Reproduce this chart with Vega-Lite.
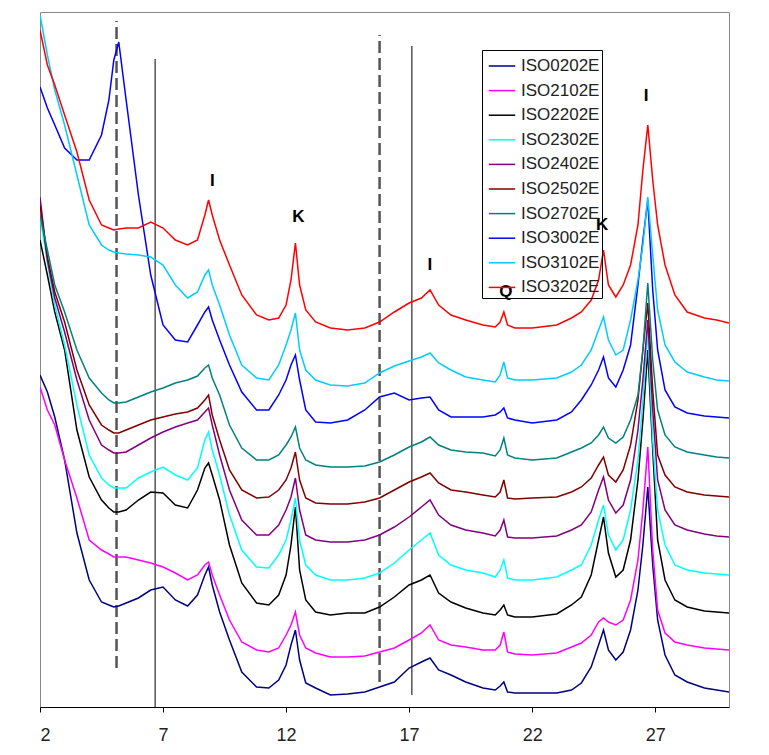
{
 "$schema": "https://vega.github.io/schema/vega-lite/v6.json",
 "width": 689, "height": 695,
 "autosize": {"type": "none"},
 "padding": {"left": 40, "top": 12, "right": 40, "bottom": 48},
 "background": "white",
 "config": {"view": {"stroke": "#888", "strokeWidth": 1}, "font": "Liberation Sans"},
 "datasets": {
  "xrd": [
   {"x":2.0,"ISO0202E":332,"ISO2102E":320,"ISO2202E":467,"ISO2302E":492,"ISO2402E":510,"ISO2502E":502,"ISO2702E":492,"ISO3002E":620,"ISO3102E":692,"ISO3202E":677},
   {"x":2.3,"ISO0202E":315,"ISO2102E":297,"ISO2202E":432,"ISO2302E":444,"ISO2402E":447,"ISO2502E":450,"ISO2702E":457,"ISO3002E":599,"ISO3102E":652,"ISO3202E":642},
   {"x":2.6,"ISO0202E":290,"ISO2102E":282,"ISO2202E":395,"ISO2302E":402,"ISO2402E":409,"ISO2502E":415,"ISO2702E":422,"ISO3002E":582,"ISO3102E":617,"ISO3202E":622},
   {"x":3.0,"ISO0202E":247,"ISO2102E":247,"ISO2202E":357,"ISO2302E":362,"ISO2402E":375,"ISO2502E":385,"ISO2702E":395,"ISO3002E":559,"ISO3102E":582,"ISO3202E":592},
   {"x":3.5,"ISO0202E":174,"ISO2102E":209,"ISO2202E":277,"ISO2302E":302,"ISO2402E":327,"ISO2502E":337,"ISO2702E":357,"ISO3002E":547,"ISO3102E":532,"ISO3202E":555},
   {"x":4.0,"ISO0202E":127,"ISO2102E":167,"ISO2202E":230,"ISO2302E":252,"ISO2402E":287,"ISO2502E":302,"ISO2702E":329,"ISO3002E":547,"ISO3102E":482,"ISO3202E":507},
   {"x":4.5,"ISO0202E":105,"ISO2102E":157,"ISO2202E":207,"ISO2302E":229,"ISO2402E":262,"ISO2502E":282,"ISO2702E":314,"ISO3002E":572,"ISO3102E":462,"ISO3202E":482},
   {"x":4.8,"ISO0202E":102,"ISO2102E":153,"ISO2202E":199,"ISO2302E":222,"ISO2402E":257,"ISO2502E":277,"ISO2702E":307,"ISO3002E":607,"ISO3102E":457,"ISO3202E":479},
   {"x":5.0,"ISO0202E":100,"ISO2102E":150,"ISO2202E":195,"ISO2302E":219,"ISO2402E":254,"ISO2502E":274,"ISO2702E":304,"ISO3002E":647,"ISO3102E":455,"ISO3202E":477},
   {"x":5.2,"ISO0202E":101,"ISO2102E":150,"ISO2202E":195,"ISO2302E":219,"ISO2402E":254,"ISO2502E":274,"ISO2702E":304,"ISO3002E":665,"ISO3102E":454,"ISO3202E":478},
   {"x":5.5,"ISO0202E":104,"ISO2102E":150,"ISO2202E":197,"ISO2302E":219,"ISO2402E":255,"ISO2502E":277,"ISO2702E":305,"ISO3002E":607,"ISO3102E":453,"ISO3202E":479},
   {"x":6.0,"ISO0202E":109,"ISO2102E":147,"ISO2202E":207,"ISO2302E":229,"ISO2402E":262,"ISO2502E":282,"ISO2702E":310,"ISO3002E":512,"ISO3102E":452,"ISO3202E":479},
   {"x":6.5,"ISO0202E":117,"ISO2102E":144,"ISO2202E":215,"ISO2302E":235,"ISO2402E":269,"ISO2502E":287,"ISO2702E":315,"ISO3002E":432,"ISO3102E":450,"ISO3202E":485},
   {"x":7.0,"ISO0202E":120,"ISO2102E":140,"ISO2202E":214,"ISO2302E":240,"ISO2402E":275,"ISO2502E":290,"ISO2702E":319,"ISO3002E":382,"ISO3102E":442,"ISO3202E":479},
   {"x":7.5,"ISO0202E":107,"ISO2102E":134,"ISO2202E":202,"ISO2302E":232,"ISO2402E":280,"ISO2502E":293,"ISO2702E":324,"ISO3002E":367,"ISO3102E":422,"ISO3202E":467},
   {"x":8.0,"ISO0202E":101,"ISO2102E":127,"ISO2202E":199,"ISO2302E":227,"ISO2402E":284,"ISO2502E":295,"ISO2702E":327,"ISO3002E":365,"ISO3102E":409,"ISO3202E":462},
   {"x":8.4,"ISO0202E":112,"ISO2102E":132,"ISO2202E":217,"ISO2302E":239,"ISO2402E":287,"ISO2502E":299,"ISO2702E":331,"ISO3002E":382,"ISO3102E":415,"ISO3202E":467},
   {"x":8.7,"ISO0202E":132,"ISO2102E":142,"ISO2202E":239,"ISO2302E":267,"ISO2402E":295,"ISO2502E":307,"ISO2702E":339,"ISO3002E":395,"ISO3102E":432,"ISO3202E":492},
   {"x":8.85,"ISO0202E":140,"ISO2102E":145,"ISO2202E":244,"ISO2302E":275,"ISO2402E":299,"ISO2502E":312,"ISO2702E":342,"ISO3002E":400,"ISO3102E":437,"ISO3202E":507},
   {"x":9.0,"ISO0202E":122,"ISO2102E":132,"ISO2202E":232,"ISO2302E":257,"ISO2402E":282,"ISO2502E":292,"ISO2702E":329,"ISO3002E":387,"ISO3102E":422,"ISO3202E":492},
   {"x":9.3,"ISO0202E":95,"ISO2102E":112,"ISO2202E":207,"ISO2302E":232,"ISO2402E":252,"ISO2502E":267,"ISO2702E":312,"ISO3002E":367,"ISO3102E":402,"ISO3202E":467},
   {"x":9.7,"ISO0202E":67,"ISO2102E":87,"ISO2202E":162,"ISO2302E":192,"ISO2402E":217,"ISO2502E":237,"ISO2702E":282,"ISO3002E":342,"ISO3102E":372,"ISO3202E":442},
   {"x":10.2,"ISO0202E":35,"ISO2102E":65,"ISO2202E":124,"ISO2302E":157,"ISO2402E":187,"ISO2502E":217,"ISO2702E":259,"ISO3002E":315,"ISO3102E":342,"ISO3202E":412},
   {"x":10.8,"ISO0202E":20,"ISO2102E":57,"ISO2202E":104,"ISO2302E":140,"ISO2402E":172,"ISO2502E":209,"ISO2702E":247,"ISO3002E":297,"ISO3102E":329,"ISO3202E":392},
   {"x":11.3,"ISO0202E":19,"ISO2102E":55,"ISO2202E":102,"ISO2302E":139,"ISO2402E":172,"ISO2502E":210,"ISO2702E":247,"ISO3002E":297,"ISO3102E":327,"ISO3202E":387},
   {"x":11.7,"ISO0202E":27,"ISO2102E":59,"ISO2202E":112,"ISO2302E":152,"ISO2402E":182,"ISO2502E":217,"ISO2702E":252,"ISO3002E":312,"ISO3102E":342,"ISO3202E":389},
   {"x":12.0,"ISO0202E":42,"ISO2102E":72,"ISO2202E":132,"ISO2302E":167,"ISO2402E":197,"ISO2502E":227,"ISO2702E":262,"ISO3002E":327,"ISO3102E":362,"ISO3202E":402},
   {"x":12.2,"ISO0202E":62,"ISO2102E":82,"ISO2202E":162,"ISO2302E":187,"ISO2402E":210,"ISO2502E":239,"ISO2702E":270,"ISO3002E":342,"ISO3102E":377,"ISO3202E":427},
   {"x":12.38,"ISO0202E":77,"ISO2102E":95,"ISO2202E":200,"ISO2302E":209,"ISO2402E":229,"ISO2502E":255,"ISO2702E":280,"ISO3002E":352,"ISO3102E":394,"ISO3202E":464},
   {"x":12.55,"ISO0202E":47,"ISO2102E":72,"ISO2202E":137,"ISO2302E":167,"ISO2402E":197,"ISO2502E":227,"ISO2702E":259,"ISO3002E":327,"ISO3102E":357,"ISO3202E":422},
   {"x":12.8,"ISO0202E":24,"ISO2102E":59,"ISO2202E":107,"ISO2302E":142,"ISO2402E":172,"ISO2502E":209,"ISO2702E":247,"ISO3002E":297,"ISO3102E":337,"ISO3202E":397},
   {"x":13.2,"ISO0202E":19,"ISO2102E":54,"ISO2202E":95,"ISO2302E":132,"ISO2402E":167,"ISO2502E":204,"ISO2702E":242,"ISO3002E":285,"ISO3102E":327,"ISO3202E":385},
   {"x":13.8,"ISO0202E":12,"ISO2102E":50,"ISO2202E":92,"ISO2302E":127,"ISO2402E":165,"ISO2502E":203,"ISO2702E":240,"ISO3002E":284,"ISO3102E":322,"ISO3202E":379},
   {"x":14.5,"ISO0202E":13,"ISO2102E":50,"ISO2202E":94,"ISO2302E":127,"ISO2402E":165,"ISO2502E":203,"ISO2702E":240,"ISO3002E":287,"ISO3102E":321,"ISO3202E":377},
   {"x":15.2,"ISO0202E":15,"ISO2102E":51,"ISO2202E":94,"ISO2302E":129,"ISO2402E":167,"ISO2502E":205,"ISO2702E":241,"ISO3002E":297,"ISO3102E":324,"ISO3202E":379},
   {"x":15.8,"ISO0202E":20,"ISO2102E":55,"ISO2202E":100,"ISO2302E":134,"ISO2402E":172,"ISO2502E":209,"ISO2702E":245,"ISO3002E":310,"ISO3102E":334,"ISO3202E":385},
   {"x":16.4,"ISO0202E":25,"ISO2102E":59,"ISO2202E":110,"ISO2302E":144,"ISO2402E":180,"ISO2502E":217,"ISO2702E":252,"ISO3002E":314,"ISO3102E":341,"ISO3202E":395},
   {"x":17.0,"ISO0202E":39,"ISO2102E":67,"ISO2202E":122,"ISO2302E":157,"ISO2402E":190,"ISO2502E":225,"ISO2702E":260,"ISO3002E":307,"ISO3102E":346,"ISO3202E":404},
   {"x":17.5,"ISO0202E":45,"ISO2102E":74,"ISO2202E":127,"ISO2302E":167,"ISO2402E":200,"ISO2502E":230,"ISO2702E":265,"ISO3002E":309,"ISO3102E":350,"ISO3202E":409},
   {"x":17.85,"ISO0202E":49,"ISO2102E":82,"ISO2202E":132,"ISO2302E":174,"ISO2402E":207,"ISO2502E":234,"ISO2702E":270,"ISO3002E":310,"ISO3102E":354,"ISO3202E":417},
   {"x":18.2,"ISO0202E":37,"ISO2102E":67,"ISO2202E":114,"ISO2302E":152,"ISO2402E":192,"ISO2502E":224,"ISO2702E":262,"ISO3002E":297,"ISO3102E":344,"ISO3202E":402},
   {"x":18.7,"ISO0202E":32,"ISO2102E":62,"ISO2202E":105,"ISO2302E":142,"ISO2402E":182,"ISO2502E":217,"ISO2702E":257,"ISO3002E":290,"ISO3102E":337,"ISO3202E":392},
   {"x":19.3,"ISO0202E":25,"ISO2102E":60,"ISO2202E":99,"ISO2302E":137,"ISO2402E":177,"ISO2502E":215,"ISO2702E":255,"ISO3002E":290,"ISO3102E":330,"ISO3202E":387},
   {"x":20.0,"ISO0202E":19,"ISO2102E":57,"ISO2202E":94,"ISO2302E":134,"ISO2402E":174,"ISO2502E":212,"ISO2702E":254,"ISO3002E":290,"ISO3102E":327,"ISO3202E":382},
   {"x":20.5,"ISO0202E":17,"ISO2102E":57,"ISO2202E":92,"ISO2302E":130,"ISO2402E":171,"ISO2502E":210,"ISO2702E":251,"ISO3002E":292,"ISO3102E":325,"ISO3202E":380},
   {"x":20.7,"ISO0202E":21,"ISO2102E":62,"ISO2202E":97,"ISO2302E":137,"ISO2402E":177,"ISO2502E":215,"ISO2702E":257,"ISO3002E":295,"ISO3102E":332,"ISO3202E":385},
   {"x":20.85,"ISO0202E":25,"ISO2102E":75,"ISO2202E":102,"ISO2302E":147,"ISO2402E":187,"ISO2502E":227,"ISO2702E":269,"ISO3002E":299,"ISO3102E":345,"ISO3202E":395},
   {"x":21.0,"ISO0202E":15,"ISO2102E":55,"ISO2202E":92,"ISO2302E":129,"ISO2402E":170,"ISO2502E":209,"ISO2702E":252,"ISO3002E":289,"ISO3102E":329,"ISO3202E":382},
   {"x":21.3,"ISO0202E":14,"ISO2102E":53,"ISO2202E":90,"ISO2302E":127,"ISO2402E":169,"ISO2502E":208,"ISO2702E":249,"ISO3002E":287,"ISO3102E":327,"ISO3202E":379},
   {"x":22.0,"ISO0202E":14,"ISO2102E":52,"ISO2202E":90,"ISO2302E":127,"ISO2402E":169,"ISO2502E":209,"ISO2702E":247,"ISO3002E":284,"ISO3102E":327,"ISO3202E":379},
   {"x":23.0,"ISO0202E":14,"ISO2102E":54,"ISO2202E":93,"ISO2302E":130,"ISO2402E":171,"ISO2502E":210,"ISO2702E":249,"ISO3002E":287,"ISO3102E":329,"ISO3202E":382},
   {"x":23.6,"ISO0202E":17,"ISO2102E":60,"ISO2202E":102,"ISO2302E":137,"ISO2402E":177,"ISO2502E":215,"ISO2702E":255,"ISO3002E":295,"ISO3102E":335,"ISO3202E":389},
   {"x":24.0,"ISO0202E":24,"ISO2102E":64,"ISO2202E":110,"ISO2302E":142,"ISO2402E":182,"ISO2502E":220,"ISO2702E":259,"ISO3002E":307,"ISO3102E":342,"ISO3202E":395},
   {"x":24.4,"ISO0202E":40,"ISO2102E":72,"ISO2202E":132,"ISO2302E":162,"ISO2402E":195,"ISO2502E":229,"ISO2702E":264,"ISO3002E":322,"ISO3102E":357,"ISO3202E":407},
   {"x":24.7,"ISO0202E":62,"ISO2102E":85,"ISO2202E":167,"ISO2302E":187,"ISO2402E":217,"ISO2502E":242,"ISO2702E":272,"ISO3002E":337,"ISO3102E":377,"ISO3202E":427},
   {"x":24.9,"ISO0202E":77,"ISO2102E":89,"ISO2202E":190,"ISO2302E":202,"ISO2402E":230,"ISO2502E":250,"ISO2702E":280,"ISO3002E":350,"ISO3102E":390,"ISO3202E":457},
   {"x":25.1,"ISO0202E":57,"ISO2102E":85,"ISO2202E":154,"ISO2302E":172,"ISO2402E":207,"ISO2502E":232,"ISO2702E":269,"ISO3002E":329,"ISO3102E":367,"ISO3202E":422},
   {"x":25.4,"ISO0202E":47,"ISO2102E":82,"ISO2202E":130,"ISO2302E":157,"ISO2402E":194,"ISO2502E":225,"ISO2702E":264,"ISO3002E":320,"ISO3102E":352,"ISO3202E":410},
   {"x":25.7,"ISO0202E":55,"ISO2102E":87,"ISO2202E":137,"ISO2302E":167,"ISO2402E":202,"ISO2502E":237,"ISO2702E":270,"ISO3002E":337,"ISO3102E":357,"ISO3202E":422},
   {"x":26.0,"ISO0202E":77,"ISO2102E":107,"ISO2202E":167,"ISO2302E":197,"ISO2402E":227,"ISO2502E":262,"ISO2702E":287,"ISO3002E":362,"ISO3102E":387,"ISO3202E":442},
   {"x":26.3,"ISO0202E":117,"ISO2102E":147,"ISO2202E":227,"ISO2302E":247,"ISO2402E":277,"ISO2502E":307,"ISO2702E":312,"ISO3002E":422,"ISO3102E":427,"ISO3202E":482},
   {"x":26.5,"ISO0202E":162,"ISO2102E":197,"ISO2202E":287,"ISO2302E":307,"ISO2402E":327,"ISO2502E":357,"ISO2702E":357,"ISO3002E":467,"ISO3102E":462,"ISO3202E":537},
   {"x":26.7,"ISO0202E":220,"ISO2102E":260,"ISO2202E":357,"ISO2302E":377,"ISO2402E":387,"ISO2502E":404,"ISO2702E":424,"ISO3002E":507,"ISO3102E":510,"ISO3202E":582},
   {"x":26.9,"ISO0202E":142,"ISO2102E":157,"ISO2202E":257,"ISO2302E":267,"ISO2402E":297,"ISO2502E":317,"ISO2702E":347,"ISO3002E":417,"ISO3102E":452,"ISO3202E":527},
   {"x":27.1,"ISO0202E":87,"ISO2102E":97,"ISO2202E":167,"ISO2302E":197,"ISO2402E":227,"ISO2502E":252,"ISO2702E":297,"ISO3002E":357,"ISO3102E":397,"ISO3202E":482},
   {"x":27.4,"ISO0202E":52,"ISO2102E":74,"ISO2202E":127,"ISO2302E":162,"ISO2402E":197,"ISO2502E":232,"ISO2702E":272,"ISO3002E":317,"ISO3102E":362,"ISO3202E":442},
   {"x":27.8,"ISO0202E":32,"ISO2102E":65,"ISO2202E":107,"ISO2302E":142,"ISO2402E":182,"ISO2502E":220,"ISO2702E":260,"ISO3002E":300,"ISO3102E":345,"ISO3202E":412},
   {"x":28.3,"ISO0202E":25,"ISO2102E":62,"ISO2202E":100,"ISO2302E":137,"ISO2402E":177,"ISO2502E":215,"ISO2702E":255,"ISO3002E":294,"ISO3102E":335,"ISO3202E":395},
   {"x":29.0,"ISO0202E":19,"ISO2102E":59,"ISO2202E":96,"ISO2302E":134,"ISO2402E":173,"ISO2502E":212,"ISO2702E":252,"ISO3002E":291,"ISO3102E":330,"ISO3202E":389},
   {"x":29.5,"ISO0202E":17,"ISO2102E":58,"ISO2202E":95,"ISO2302E":133,"ISO2402E":171,"ISO2502E":211,"ISO2702E":250,"ISO3002E":290,"ISO3102E":327,"ISO3202E":387},
   {"x":30.0,"ISO0202E":15,"ISO2102E":57,"ISO2202E":94,"ISO2302E":132,"ISO2402E":170,"ISO2502E":210,"ISO2702E":249,"ISO3002E":289,"ISO3102E":326,"ISO3202E":384}
  ],
  "dashed": [{"x":5.11,"y":39,"y2":686},{"x":15.8,"y":25,"y2":672}],
  "solid": [{"x":6.68,"y":0,"y2":648},{"x":17.11,"y":12,"y2":661}],
  "labels": [
   {"x":9.0,"y":526,"label":"I"},
   {"x":12.5,"y":490,"label":"K"},
   {"x":17.84,"y":442,"label":"I"},
   {"x":20.93,"y":415,"label":"Q"},
   {"x":24.84,"y":482,"label":"K"},
   {"x":26.63,"y":611,"label":"I"}
  ]
 },
 "encoding": {
  "x": {"field": "x", "type": "quantitative", "title": null,
        "scale": {"domain": [2, 30], "nice": false, "zero": false},
        "axis": {"values": [2, 7, 12, 17, 22, 27], "grid": false, "domainColor": "#000", "tickColor": "#000", "tickSize": 5,
                 "labelFontSize": 18, "labelFont": "Liberation Sans", "labelColor": "#222", "labelPadding": 14}},
  "y": {"field": "y", "type": "quantitative", "scale": {"domain": [0, 695], "nice": false}, "axis": null}
 },
 "layer": [
  {"data": {"name": "dashed"}, "mark": {"type": "rule", "color": "#555", "strokeWidth": 2.5, "strokeDash": [12, 5]},
   "encoding": {"y2": {"field": "y2"}}},
  {"data": {"name": "solid"}, "mark": {"type": "rule", "color": "#555", "strokeWidth": 1.5},
   "encoding": {"y2": {"field": "y2"}}},
  {"data": {"name": "xrd"},
   "transform": [{"fold": ["ISO0202E","ISO2102E","ISO2202E","ISO2302E","ISO2402E","ISO2502E","ISO2702E","ISO3002E","ISO3102E","ISO3202E"], "as": ["series", "y"]}],
   "mark": {"type": "line", "strokeWidth": 1.5, "clip": true},
   "encoding": {
    "color": {"field": "series", "type": "nominal",
      "scale": {"domain": ["ISO0202E","ISO2102E","ISO2202E","ISO2302E","ISO2402E","ISO2502E","ISO2702E","ISO3002E","ISO3102E","ISO3202E"],
                "range": ["#000080","#FF00FF","#000000","#00FFFF","#800080","#800000","#008080","#0000FF","#00CCFF","#FF0000"]},
      "legend": {"title": null, "orient": "none", "legendX": 442, "legendY": 38, "strokeColor": "black",
                 "padding": 2, "symbolOffset": 4, "symbolType": "stroke", "symbolStrokeWidth": 1.5, "symbolSize": 700,
                 "labelFontSize": 17, "labelFont": "Liberation Sans", "labelColor": "#222", "rowPadding": 2.6, "labelOffset": 5}}
   }},
  {"data": {"name": "labels"},
   "mark": {"type": "text", "font": "Liberation Sans", "fontSize": 17, "fontWeight": "bold", "color": "black", "align": "center", "baseline": "middle"},
   "encoding": {"text": {"field": "label"}}}
 ]
}
